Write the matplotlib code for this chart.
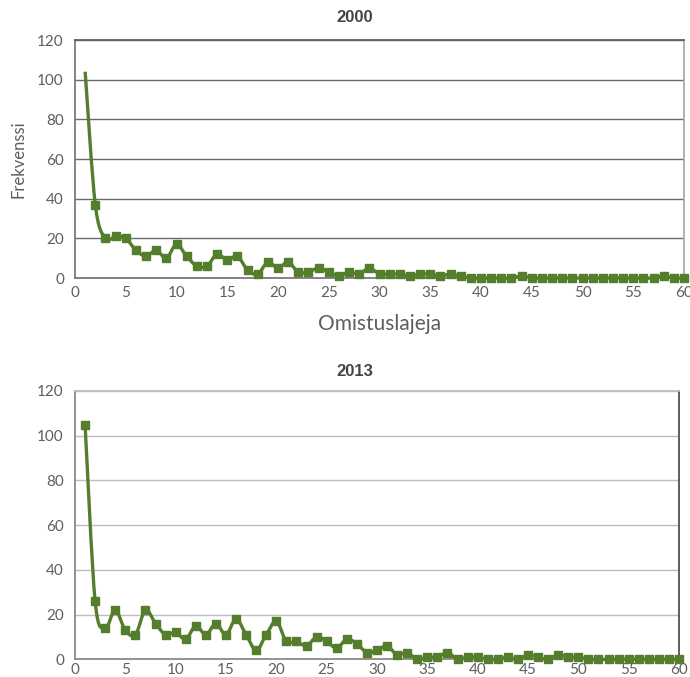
import matplotlib
matplotlib.use("Agg")
import matplotlib.pyplot as plt
from matplotlib.path import Path
from matplotlib.patches import PathPatch
import numpy as np

x_values = list(range(1, 61))
freq_2000 = [104, 37, 20, 21, 20, 14, 11, 14, 10, 17,
             11, 6, 6, 12, 9, 11, 4, 2, 8, 5,
             8, 3, 3, 5, 3, 1, 3, 2, 5, 2,
             2, 2, 1, 2, 2, 1, 2, 1, 0, 0,
             0, 0, 0, 1, 0, 0, 0, 0, 0, 0,
             0, 0, 0, 0, 0, 0, 0, 1, 0, 0]
freq_2013 = [105, 26, 14, 22, 13, 11, 22, 16, 11, 12,
             9, 15, 11, 16, 11, 18, 11, 4, 11, 17,
             8, 8, 6, 10, 8, 5, 9, 7, 3, 4,
             6, 2, 3, 0, 1, 1, 3, 0, 1, 1,
             0, 0, 1, 0, 2, 1, 0, 2, 1, 1,
             0, 0, 0, 0, 0, 0, 0, 0, 0, 0]
titles = ["2000", "2013"]
x_ticks = list(range(0, 61, 5))
y_ticks = list(range(0, 121, 20))

GREEN = "#547d2c"
TXT = "#5e5e5e"
FONT = ["Lato", "DejaVu Sans"]
plt.rcParams['font.family'] = FONT

fig = plt.figure(figsize=(6.9, 6.77), dpi=100)


def smooth_path(xs, ys):
    pts = np.column_stack([xs, ys]).astype(float)
    n = len(pts)
    verts = [pts[0]]
    codes = [Path.MOVETO]
    for i in range(n - 1):
        p0 = pts[i - 1] if i > 0 else pts[i]
        p1 = pts[i]
        p2 = pts[i + 1]
        p3 = pts[i + 2] if i + 2 < n else pts[i + 1]
        c1 = p1 + (p2 - p0) / 6.0
        c2 = p2 - (p3 - p1) / 6.0
        verts += [c1, c2, p2]
        codes += [Path.CURVE4] * 3
    return Path(verts, codes)


def draw(ax, xs, ys, title, grid_col, spine_cols, first_marker, title_y, xpad):
    ax.set_xlim(0, 60)
    ax.set_ylim(0, 120)
    ax.set_xticks(x_ticks)
    ax.set_yticks(y_ticks)
    ax.yaxis.grid(True, color=grid_col, lw=1.0)
    ax.set_axisbelow(True)
    ax.tick_params(length=0, labelsize=11, colors=TXT)
    ax.tick_params(axis="y", pad=8)
    ax.tick_params(axis="x", pad=xpad)
    for side, col in spine_cols.items():
        ax.spines[side].set_color(col)
        ax.spines[side].set_linewidth(1.3)
    patch = PathPatch(smooth_path(xs, ys), facecolor="none", edgecolor=GREEN,
                      lw=2.4, transform=ax.transData, clip_on=False, zorder=3)
    ax.add_patch(patch)
    mx = xs if first_marker else xs[1:]
    my = ys if first_marker else ys[1:]
    ax.plot(mx, my, linestyle="none", marker="s", markersize=5.5,
            color=GREEN, clip_on=False, zorder=4)
    fig.text(355 / 690, 1 - title_y / 677, title, ha="center", va="center",
             fontsize=12, fontweight="bold", color="#444444",
             family=["Liberation Sans", "DejaVu Sans"])


ax1 = fig.add_axes([75 / 690, 1 - 278 / 677, (684 - 75) / 690, (278 - 40) / 677])
draw(ax1, x_values, freq_2000, titles[0], "#6a6a6a",
     {"left": "#7a7a7a", "bottom": "#7a7a7a", "top": "#606060", "right": "#aaaaaa"},
     False, 18, 6)
ax1.set_ylabel("Frekvenssi", fontsize=12, color=TXT, labelpad=8)
ax1.set_xlabel("Omistuslajeja", fontsize=15, color=TXT, labelpad=10)

ax2 = fig.add_axes([75 / 690, 1 - 659.3 / 677, (679 - 75) / 690, (659.3 - 391) / 677])
draw(ax2, x_values, freq_2013, titles[1], "#bdbdbd",
     {"left": "#8a8a8a", "bottom": "#8a8a8a", "top": "#bdbdbd", "right": "#505050"},
     True, 371, 3)

fig.savefig("out.png", dpi=100, facecolor="white")
